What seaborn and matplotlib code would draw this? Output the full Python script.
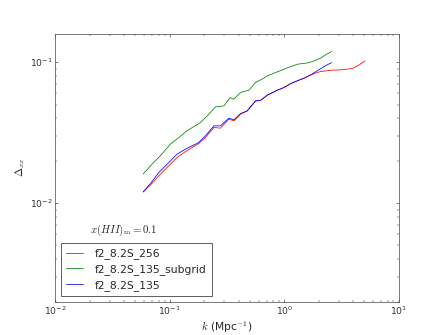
import numpy as np
import pandas as pd
import matplotlib
matplotlib.use("Agg")
import matplotlib.pyplot as plt
import seaborn as sns

# -----------------------------
# Data
# -----------------------------
k_256 = [0.0585, 0.0678, 0.0802, 0.098, 0.116, 0.137, 0.157, 0.179, 0.205,
         0.243, 0.277, 0.328, 0.363, 0.415, 0.474, 0.561, 0.621, 0.710,
         0.869, 0.993, 1.14, 1.30, 1.49, 1.82, 2.08, 2.54, 3.11, 3.94, 4.50, 5.08]
d_256 = [0.0120, 0.01343, 0.01563, 0.01841, 0.02109, 0.02324, 0.02483, 0.02650,
         0.02924, 0.03443, 0.03404, 0.03945, 0.03837, 0.04276, 0.0450, 0.0530,
         0.0535, 0.0583, 0.0633, 0.0661, 0.0706, 0.0738, 0.0771, 0.0831,
         0.0859, 0.0877, 0.0883, 0.0902, 0.0957, 0.1021]

k_sub = [0.0585, 0.070, 0.0828, 0.101, 0.120, 0.137, 0.157, 0.173, 0.185,
         0.212, 0.251, 0.297, 0.335, 0.363, 0.415, 0.491, 0.561, 0.664,
         0.710, 0.840, 0.993, 1.14, 1.30, 1.59, 1.82, 2.08, 2.30, 2.59]
d_sub = [0.0161, 0.0189, 0.0217, 0.0262, 0.0292, 0.0320, 0.0344, 0.0360,
         0.0373, 0.0416, 0.0482, 0.0490, 0.0561, 0.0547, 0.0610, 0.0633,
         0.0718, 0.0771, 0.0800, 0.0845, 0.0892, 0.0932, 0.0968, 0.0989,
         0.102, 0.107, 0.113, 0.119]

k_135 = [0.0585, 0.0678, 0.0802, 0.098, 0.116, 0.137, 0.157, 0.179, 0.205,
         0.243, 0.277, 0.328, 0.363, 0.415, 0.474, 0.561, 0.621, 0.710,
         0.869, 0.993, 1.14, 1.30, 1.49, 1.70, 1.94, 2.22, 2.59]
d_135 = [0.0120, 0.01377, 0.01648, 0.01941, 0.02228, 0.02415, 0.02553, 0.02692,
         0.03006, 0.03534, 0.03534, 0.0401, 0.0390, 0.0432, 0.0452, 0.0532,
         0.0537, 0.0583, 0.0633, 0.0661, 0.0706, 0.0738, 0.0771, 0.0813,
         0.0869, 0.0931, 0.0995]

names = ["f2_8.2S_256", "f2_8.2S_135_subgrid", "f2_8.2S_135"]
colors = ["red", "green", "blue"]

df = pd.concat([
    pd.DataFrame({"k": k_256, "delta": d_256, "run": names[0]}),
    pd.DataFrame({"k": k_sub, "delta": d_sub, "run": names[1]}),
    pd.DataFrame({"k": k_135, "delta": d_135, "run": names[2]}),
], ignore_index=True)

# -----------------------------
# Style (old matplotlib look)
# -----------------------------
sns.set_style("ticks")
plt.rcParams.update({
    "font.family": ["DejaVu Sans"],
    "font.size": 14,
    "mathtext.fontset": "cm",
    "xtick.direction": "in",
    "ytick.direction": "in",
    "xtick.top": True,
    "ytick.right": True,
    "xtick.major.size": 4,
    "ytick.major.size": 4,
    "xtick.minor.size": 2,
    "ytick.minor.size": 2,
    "axes.edgecolor": "#555555",
    "axes.linewidth": 1.0,
})

dpi = 55.4
fig, ax = plt.subplots(figsize=(443 / dpi, 335 / dpi), dpi=dpi)
fig.subplots_adjust(left=0.125, right=0.9, bottom=0.1, top=0.9)

sns.lineplot(data=df, x="k", y="delta", hue="run", hue_order=names,
             palette=dict(zip(names, colors)), estimator=None, sort=False,
             linewidth=1.0, ax=ax)

ax.set_xscale("log")
ax.set_yscale("log")
ax.set_xlim(1e-2, 10)
ax.set_ylim(2e-3, 0.16)
ax.set_xlabel(r"$k$ (Mpc$^{-1}$)", fontsize=14)
ax.set_ylabel(r"$\Delta_{xx}$", fontsize=14)
ax.tick_params(labelsize=12, colors="#333333")

# ionized fraction label
ax.text(0.0202, 0.0064, r"$x(HII)_{\rm m}=0.1$", fontsize=14,
        va="center", ha="left")

leg = ax.legend(loc="lower left", fontsize=14, frameon=True, fancybox=False,
                borderaxespad=0.5, handlelength=1.6, handletextpad=1.1,
                labelspacing=0.45, borderpad=0.5)
leg.get_frame().set_edgecolor("black")
leg.get_frame().set_linewidth(1.0)

fig.savefig("out.png", dpi=dpi)
